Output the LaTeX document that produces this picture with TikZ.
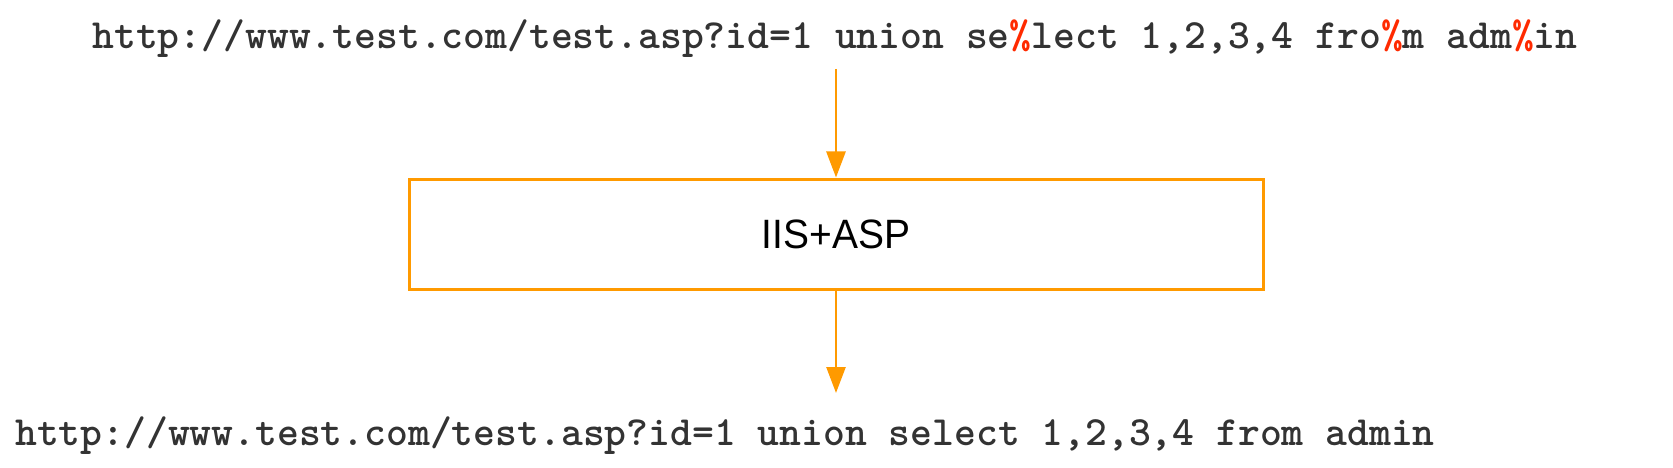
\documentclass[tikz,border=0pt]{standalone}
\usepackage{fontspec}
\usepackage{graphicx}
\setsansfont{Liberation Sans}
\usetikzlibrary{arrows.meta}
\definecolor{orng}{HTML}{FF9A00}
\definecolor{txtgray}{HTML}{333333}
\definecolor{pctred}{HTML}{FF2A00}
\newcommand{\pct}{\textcolor{pctred}{\%}}
\tikzset{
  urltext/.style={font=\ttfamily\bfseries\fontsize{41.6}{50}\selectfont, text=txtgray, inner sep=0pt, anchor=base},
  procbox/.style={draw=orng, line width=3pt, minimum width=854pt, minimum height=110pt, inner sep=0pt,
    font=\sffamily\fontsize{41}{48}\selectfont, text=black},
  flow/.style={draw=orng, line width=2.6pt, -{Triangle[length=26pt,width=19pt]}}
}
\begin{document}
\begin{tikzpicture}[x=1pt,y=1pt]
\useasboundingbox (0,0) rectangle (1673,-468);
\node[urltext] (src) at (835,-49) {http://www.test.com/test.asp?id=1 union se\pct lect 1,2,3,4 fro\pct m adm\pct in};
\node[procbox] (srv) at (836,-234) {\scalebox{0.95}[1]{IIS+ASP}};
\node[urltext] (dst) at (725,-445) {http://www.test.com/test.asp?id=1 union select 1,2,3,4 from admin};
\draw[flow] ([yshift=-20pt]src.base -| srv.north) -- (srv.north);
\draw[flow] (srv.south) -- ([yshift=52pt]dst.base -| srv.south);
\end{tikzpicture}
\end{document}
